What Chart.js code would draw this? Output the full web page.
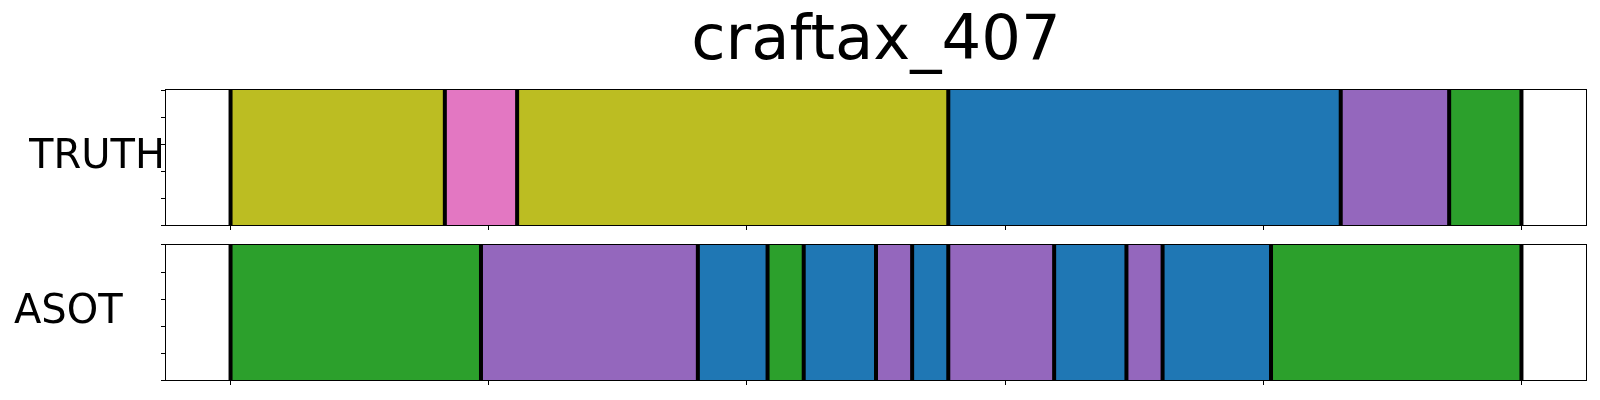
<!DOCTYPE html>
<html><head><meta charset="utf-8">
<script src="https://cdn.jsdelivr.net/npm/chart.js@4.4.1/dist/chart.umd.min.js"></script>
<style>
html,body{margin:0;padding:0;background:#fff;width:1600px;height:400px;overflow:hidden}
#c1{position:absolute;left:0;top:0}
#c2{position:absolute;left:0;top:240px}
</style>
</head><body>
<canvas id="c1" width="1600" height="240"></canvas>
<canvas id="c2" width="1600" height="160"></canvas>
<script>
// ---- data ----
const chartTitle = 'craftax_407';
const rowNames = ['TRUTH', 'ASOT'];
const truthBounds = [0, 83, 111, 278, 430, 472, 500];
const truthClasses = [8, 6, 8, 0, 4, 2];
const asotBounds = [0, 97, 181, 208, 222, 250, 264, 278, 319, 347, 361, 403, 500];
const asotClasses = [2, 4, 0, 2, 0, 4, 0, 4, 0, 4, 0, 2];
const xTicks = [0, 100, 200, 300, 400, 500];
const yTicks = [0, 0.25, 0.5, 0.75, 1];
const xRange = [-25, 525];
const palette = ['#1f77b4','#ff7f0e','#2ca02c','#d62728','#9467bd','#8c564b','#e377c2','#7f7f7f','#bcbd22','#17becf'];

Chart.defaults.font.family = 'DejaVu Sans';
Chart.defaults.color = '#000';

const segPlugin = {
  id: 'segLines',
  afterDatasetsDraw(chart, args, opts) {
    const {ctx, chartArea: a, scales: {x}} = chart;
    ctx.save();
    ctx.strokeStyle = '#000';
    ctx.lineWidth = 4;
    ctx.beginPath();
    (opts.values || []).forEach(v => {
      const px = x.getPixelForValue(v);
      ctx.moveTo(px, a.top); ctx.lineTo(px, a.bottom);
    });
    ctx.stroke();
    ctx.lineWidth = 1;
    ctx.strokeRect(Math.round(a.left) - 0.5, Math.round(a.top) - 0.5, a.right - a.left + 1, a.bottom - a.top + 1);
    ctx.restore();
  }
};

function makeChart(id, name, bounds, classes, cfg) {
  const datasets = classes.map((c, i) => ({
    data: [[bounds[i], bounds[i + 1]]],
    backgroundColor: palette[c],
    borderWidth: 0,
    grouped: false,
    barPercentage: 1,
    categoryPercentage: 1,
    yAxisID: 'y'
  }));
  return new Chart(document.getElementById(id), {
    type: 'bar',
    data: {labels: [name], datasets},
    plugins: [segPlugin],
    options: {
      indexAxis: 'y',
      responsive: false,
      animation: false,
      events: [],
      layout: {padding: cfg.padding},
      plugins: {
        legend: {display: false},
        tooltip: {enabled: false},
        title: cfg.title ? {
          display: true, text: chartTitle, fullSize: false,
          font: {size: 62.5, weight: 'normal', family: 'DejaVu Sans'},
          color: '#000', padding: {top: 5, bottom: 10}
        } : {display: false},
        segLines: {values: bounds}
      },
      scales: {
        x: {
          type: 'linear', min: xRange[0], max: xRange[1],
          afterBuildTicks(s) { s.ticks = xTicks.map(v => ({value: v})); },
          afterFit(s) { s.height = 5; },
          ticks: {display: false},
          grid: {drawOnChartArea: false, drawTicks: true, tickLength: 5, color: '#000', lineWidth: 1},
          border: {display: false}
        },
        y2: {
          type: 'linear', position: 'left', weight: 0, min: 0, max: 1,
          afterBuildTicks(s) { s.ticks = yTicks.map(v => ({value: v})); },
          afterFit(s) { s.width = 5; },
          ticks: {display: false},
          grid: {drawOnChartArea: false, drawTicks: true, tickLength: 5, color: '#000', lineWidth: 1},
          border: {display: false}
        },
        y: {
          type: 'category', position: 'left', weight: 1,
          afterFit(s) { s.width = cfg.labelWidth; s.paddingTop = 0; s.paddingBottom = 0; },
          ticks: {font: {size: 40, family: 'DejaVu Sans'}, color: '#000', crossAlign: 'far',
                  padding: 0, labelOffset: cfg.labelOffset},
          grid: {display: false, drawTicks: false},
          border: {display: false}
        }
      }
    }
  });
}

makeChart('c1', rowNames[0], truthBounds, truthClasses,
  {title: true, padding: {left: 29, right: 14, top: 0, bottom: 10}, labelWidth: 132, labelOffset: 0});
makeChart('c2', rowNames[1], asotBounds, asotClasses,
  {title: false, padding: {left: 14, right: 14, top: 5, bottom: 15}, labelWidth: 147, labelOffset: 0});
</script>
</body></html>
